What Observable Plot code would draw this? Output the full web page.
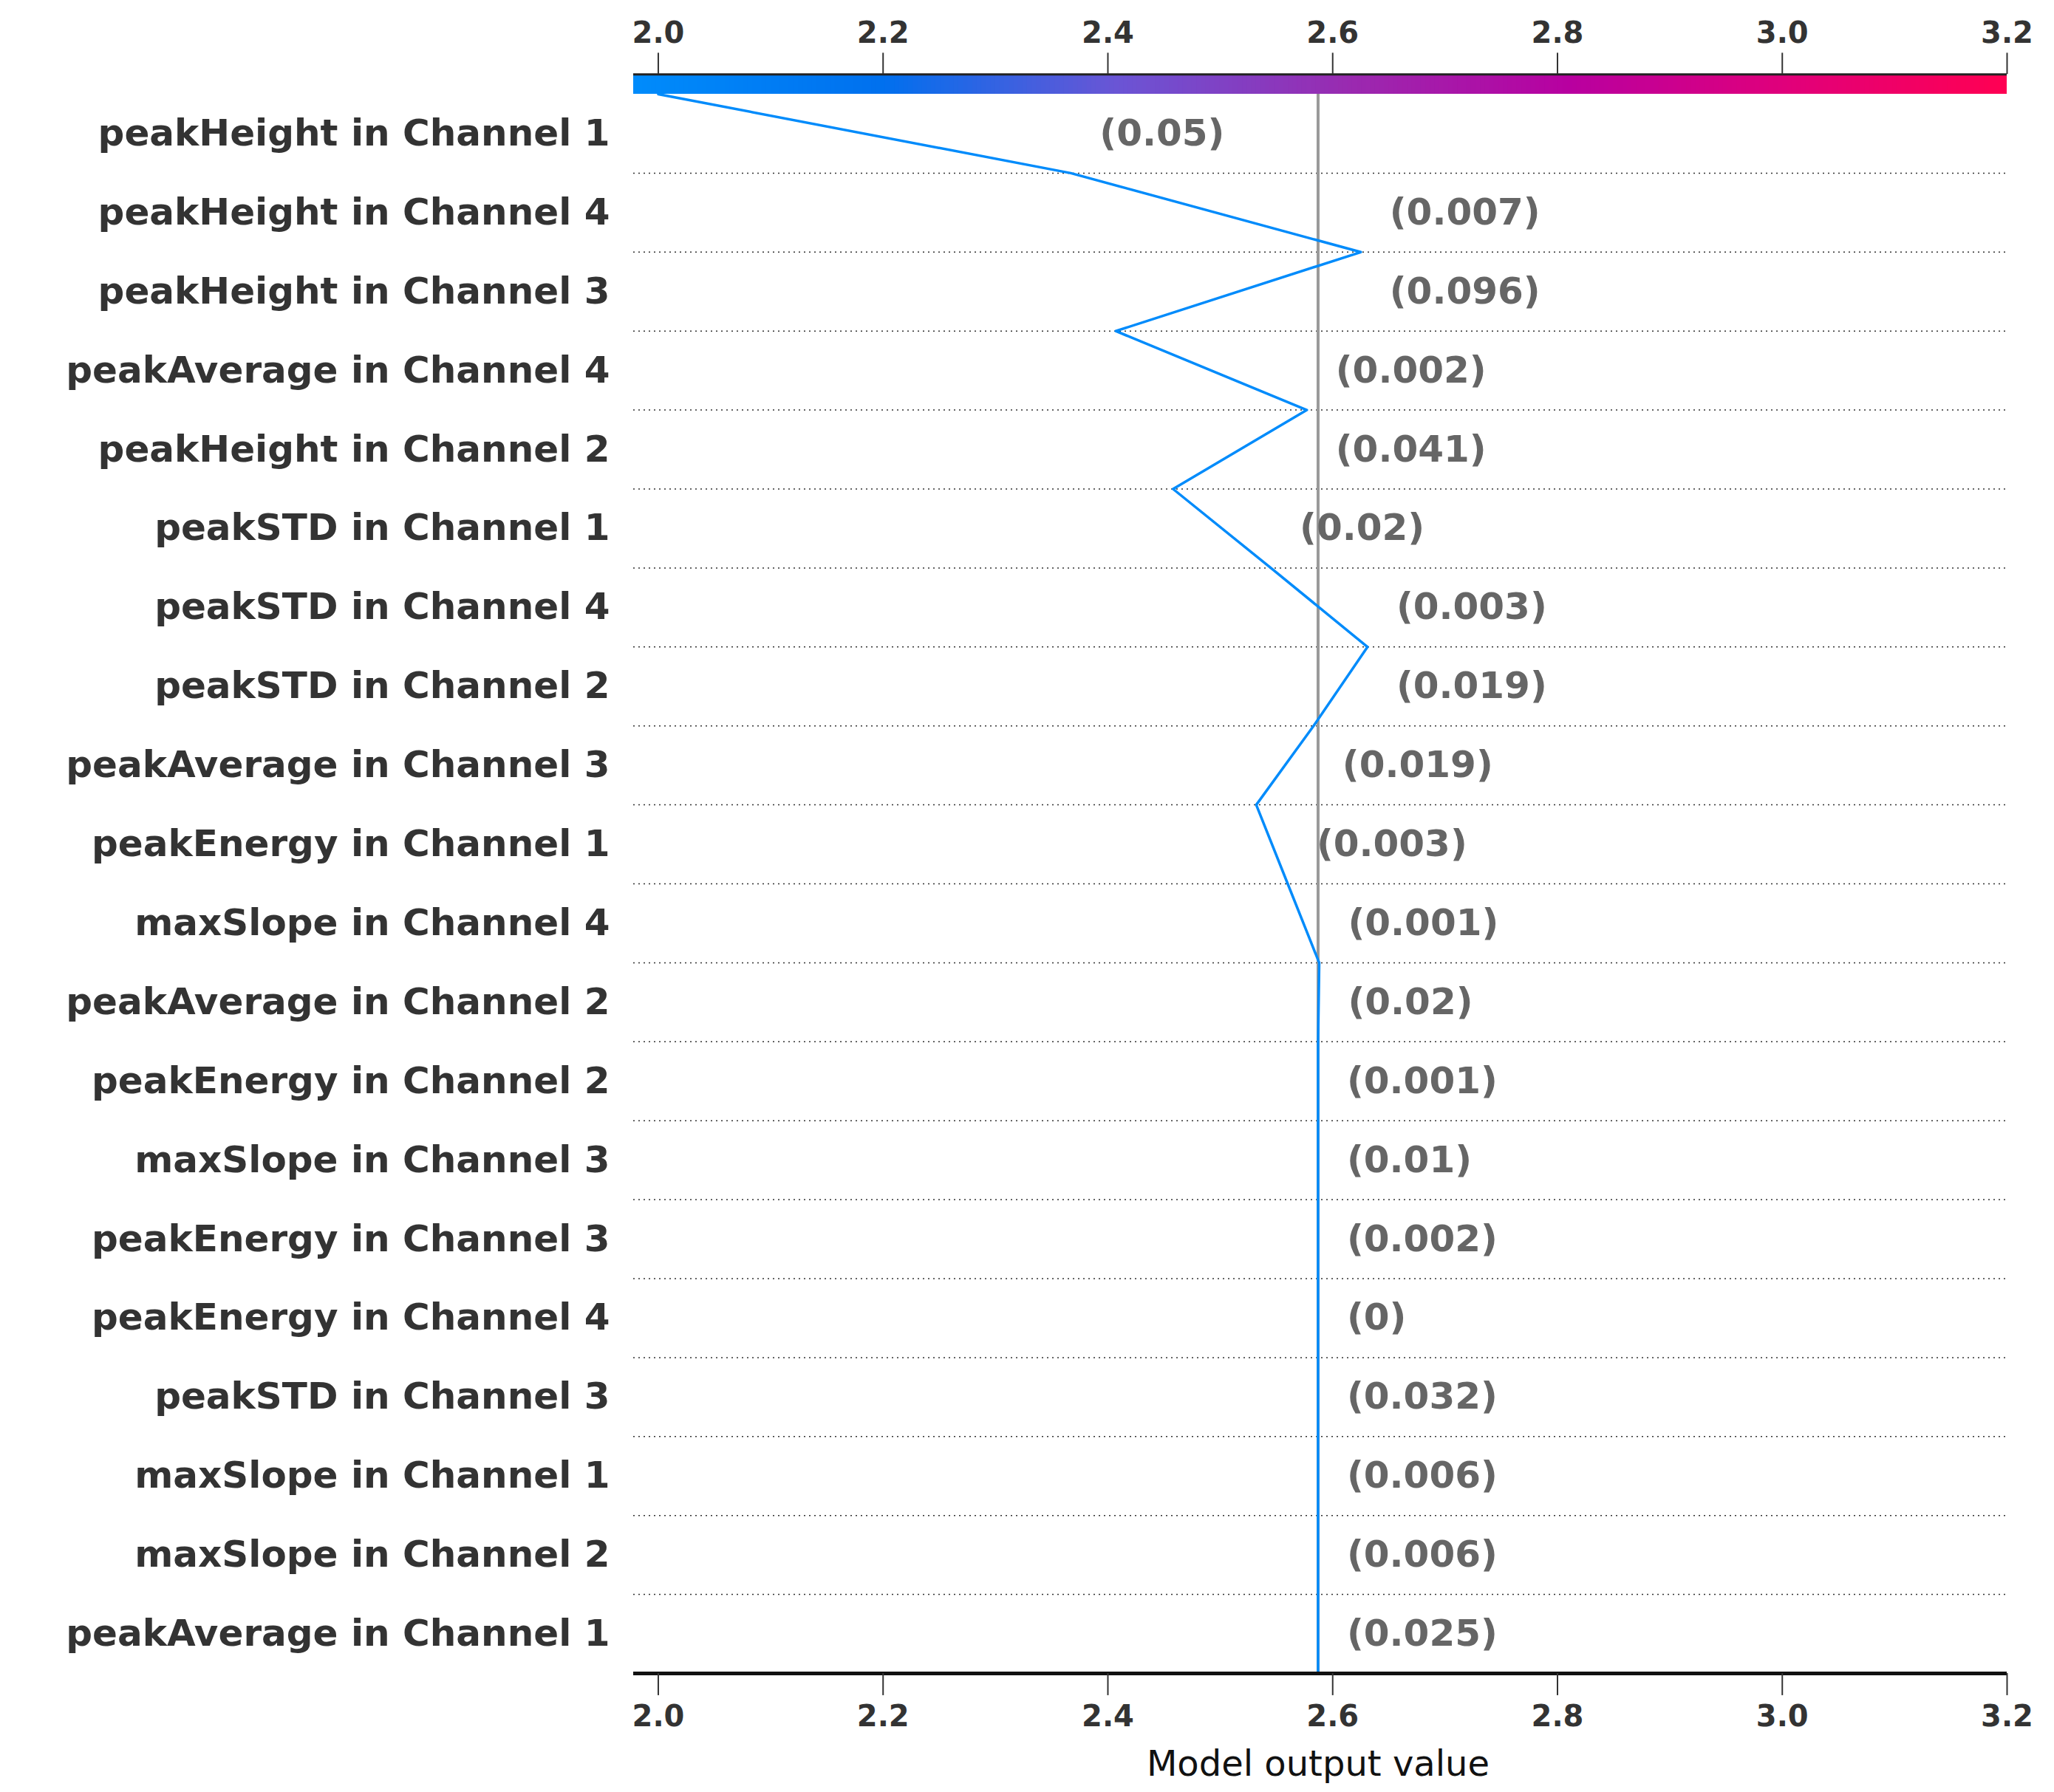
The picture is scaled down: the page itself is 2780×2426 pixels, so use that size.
<!DOCTYPE html>
<html><head><meta charset="utf-8">
<script src="https://cdn.jsdelivr.net/npm/d3@7"></script>
<script src="https://cdn.jsdelivr.net/npm/@observablehq/plot@0.6"></script>
<style>body{margin:0;background:#fff}</style>
</head><body><div id="chart"></div>
<script>
const features = ["peakHeight in Channel 1","peakHeight in Channel 4","peakHeight in Channel 3","peakAverage in Channel 4","peakHeight in Channel 2","peakSTD in Channel 1","peakSTD in Channel 4","peakSTD in Channel 2","peakAverage in Channel 3","peakEnergy in Channel 1","maxSlope in Channel 4","peakAverage in Channel 2","peakEnergy in Channel 2","maxSlope in Channel 3","peakEnergy in Channel 3","peakEnergy in Channel 4","peakSTD in Channel 3","maxSlope in Channel 1","maxSlope in Channel 2","peakAverage in Channel 1"];
const featureValues = ["(0.05)","(0.007)","(0.096)","(0.002)","(0.041)","(0.02)","(0.003)","(0.019)","(0.019)","(0.003)","(0.001)","(0.02)","(0.001)","(0.01)","(0.002)","(0)","(0.032)","(0.006)","(0.006)","(0.025)"];
// cumulative model output at row boundaries, top (final output) to bottom (base value)
const cumulative = [2.0,2.367,2.625,2.407,2.577,2.458,2.545,2.631,2.583,2.532,2.56,2.588,2.587,2.587,2.587,2.587,2.587,2.587,2.587,2.587,2.587];
const baseValue = 2.587;
const xTicks = [2.0,2.2,2.4,2.6,2.8,3.0,3.2];
const xDomain = [1.978, 3.2];

const pathData = cumulative.map((v,i)=>({x:v, y:i-0.5}));
const rows = features.map((f,i)=>({f, v:featureValues[i], y:i, lx:Math.max(cumulative[i],cumulative[i+1])}));
const cmap = d3.scaleLinear().domain([0,0.18,0.35,0.52,0.68,0.84,1]).range(["#008bfb","#0070ee","#6a55d5","#9a2ab0","#b800a0","#e1007a","#ff0052"]).interpolate(d3.interpolateRgb);
const nb = 300;
const bar = d3.range(nb).map(k=>({x1:xDomain[0]+(xDomain[1]-xDomain[0])*k/nb, x2:Math.min(xDomain[1], xDomain[0]+(xDomain[1]-xDomain[0])*(k+1.6)/nb), c:cmap(k/nb)}));

const font = "DejaVu Sans";
const chart = Plot.plot({
  width: 2780, height: 2426,
  marginLeft: 857, marginRight: 64, marginTop: 127, marginBottom: 161,
  style: {fontFamily: font, background: "#fff"},
  x: {domain: xDomain, axis: null},
  y: {domain: [-0.5, 19.5], reverse: true, axis: null},
  marks: [
    Plot.ruleY(d3.range(19).map(i=>i+0.5), {stroke:"#333", strokeWidth:1.5, strokeDasharray:"2,5"}),
    Plot.rect(bar, {x1:"x1", x2:"x2", y1:-0.5, y2:-0.75, fill:"c"}),
    Plot.ruleY([-0.75], {stroke:"#222", strokeWidth:3}),
    Plot.ruleX(xTicks, {y1:-0.75, y2:-1.02, stroke:"#333", strokeWidth:2}),
    Plot.text(xTicks, {x:d=>d, y:-1.27, text:d=>d.toFixed(1), fontSize:40, fontWeight:"bold", fill:"#333"}),
    Plot.ruleX([baseValue], {y1:-0.5, y2:19.5, stroke:"#999", strokeWidth:4}),
    Plot.line(pathData, {x:"x", y:"y", stroke:"#008bfb", strokeWidth:3.5, curve:"linear"}),
    Plot.text(rows, {x:"lx", y:"y", text:"v", dx:39, textAnchor:"start", fontSize:50, fontWeight:"bold", fill:"#666"}),
    Plot.text(rows, {x:xDomain[0], y:"y", text:"f", dx:-32, textAnchor:"end", fontSize:50, fontWeight:"bold", fill:"#333"}),
    Plot.ruleY([19.5], {stroke:"#111", strokeWidth:5}),
    Plot.ruleX(xTicks, {y1:19.5, y2:19.78, stroke:"#333", strokeWidth:2}),
    Plot.text(xTicks, {x:d=>d, y:20.05, text:d=>d.toFixed(1), fontSize:40, fontWeight:"bold", fill:"#333"}),
    Plot.text(["Model output value"], {x:2.587, y:20.65, text:d=>d, fontSize:48, fill:"#111"})
  ]
});
document.getElementById("chart").appendChild(chart);
</script></body></html>
